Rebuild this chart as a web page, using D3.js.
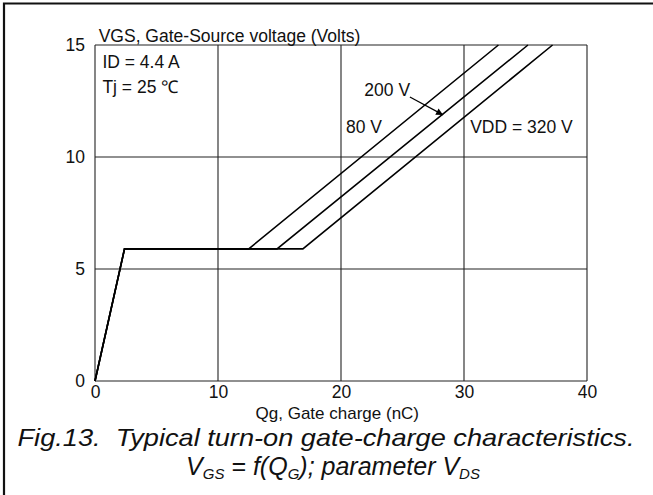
<!DOCTYPE html>
<html>
<head>
<meta charset="utf-8">
<script src="https://cdn.jsdelivr.net/npm/d3@7"></script>
<style>
  body { margin: 0; background: #fff; }
  svg { display: block; font-family: "Liberation Sans", Arial, sans-serif; }
</style>
</head>
<body>
<div id="chart"></div>
<script>
// gate charge curves
const qgTicks = [0, 10, 20, 30, 40];
const vgsTicks = [0, 5, 10, 15];
const seriesNames = ['80 V', '200 V', 'VDD = 320 V'];
const vgsPoints = [0, 5.9, 5.9, 15];
const qg80 = [0, 2.4, 12.5, 32.8];
const qg200 = [0, 2.4, 14.8, 35.2];
const qg320 = [0, 2.4, 16.9, 37.2];

const width = 653, height = 495;
const margin = { top: 45, right: 66, bottom: 114, left: 95 };

const svg = d3.select('#chart').append('svg')
  .attr('width', width).attr('height', height);

svg.append('rect').attr('width', width).attr('height', height).attr('fill', '#fff');

// outer frame (top + left visible)
svg.append('path')
  .attr('d', 'M4,495 L4,3.5 L653,3.5')
  .attr('fill', 'none').attr('stroke', '#111').attr('stroke-width', 2.2);

const x = d3.scaleLinear().domain([0, 40]).range([margin.left, width - margin.right]);
const y = d3.scaleLinear().domain([0, 15]).range([height - margin.bottom, margin.top]);

const g = svg.append('g');

// grid
g.selectAll('.vg').data(qgTicks).enter().append('line')
  .attr('x1', d => x(d)).attr('x2', d => x(d))
  .attr('y1', y(0)).attr('y2', y(15))
  .attr('stroke', '#222').attr('stroke-width', 1.1);
g.selectAll('.hg').data(vgsTicks).enter().append('line')
  .attr('x1', x(0)).attr('x2', x(40))
  .attr('y1', d => y(d)).attr('y2', d => y(d))
  .attr('stroke', '#222').attr('stroke-width', 1.1);

// axes labels via d3 axes, no domain / tick lines
const xAxis = g.append('g')
  .attr('transform', 'translate(0,' + y(0) + ')')
  .call(d3.axisBottom(x).tickValues(qgTicks).tickSize(0).tickPadding(5));
const yAxis = g.append('g')
  .attr('transform', 'translate(' + x(0) + ',0)')
  .call(d3.axisLeft(y).tickValues(vgsTicks).tickSize(0).tickPadding(10));
[xAxis, yAxis].forEach(a => {
  a.select('.domain').remove();
  a.selectAll('text').attr('font-size', 17.5).attr('fill', '#111')
    .attr('font-family', '"Liberation Sans", Arial, sans-serif');
});

// curves
const line = d3.line().x(d => x(d[0])).y(d => y(d[1]));
[qg80, qg200, qg320].forEach((qs, i) => {
  g.append('path')
    .datum(qs.map((q, j) => [q, vgsPoints[j]]))
    .attr('d', line)
    .attr('fill', 'none').attr('stroke', '#000').attr('stroke-width', 1.6)
    .attr('stroke-linejoin', 'miter');
});

// annotations
const txt = (s, px, py, size, anchor) => svg.append('text')
  .attr('x', px).attr('y', py).attr('font-size', size || 17.5)
  .attr('text-anchor', anchor || 'start').attr('fill', '#111').text(s);

txt('VGS, Gate-Source voltage (Volts)', x(0.3), 42);
txt('ID = 4.4 A', x(0.6), 68);
txt('Tj = 25 ℃', x(0.6), 93);

txt(seriesNames[0], x(20.4), y(11.07));
txt(seriesNames[1], x(21.9), y(12.72));
txt(seriesNames[2], x(30.5), y(11.07));

// arrow for 200 V
svg.append('defs').append('marker')
  .attr('id', 'ah').attr('viewBox', '0 0 10 10').attr('refX', 10).attr('refY', 5)
  .attr('markerWidth', 10).attr('markerHeight', 7).attr('markerUnits', 'userSpaceOnUse')
  .attr('orient', 'auto')
  .append('path').attr('d', 'M0,0 L10,5 L0,10 z').attr('fill', '#000');
svg.append('line')
  .attr('x1', x(25.6)).attr('y1', y(12.68))
  .attr('x2', x(28.3)).attr('y2', y(11.88))
  .attr('stroke', '#000').attr('stroke-width', 1.2)
  .attr('marker-end', 'url(#ah)');

txt('Qg, Gate charge (nC)', x(19.7), 419, 17, 'middle');

// caption
txt('Fig.13.  Typical turn-on gate-charge characteristics.', 326, 446, 24, 'middle')
  .attr('font-style', 'italic').attr('xml:space', 'preserve')
  .attr('textLength', 617).attr('lengthAdjust', 'spacingAndGlyphs');
const cap2 = svg.append('text').attr('x', 333).attr('y', 475).attr('font-size', 25)
  .attr('text-anchor', 'middle').attr('font-style', 'italic').attr('fill', '#111');
cap2.append('tspan').text('V');
cap2.append('tspan').attr('font-size', 15).attr('dy', 4).text('GS');
cap2.append('tspan').attr('dy', -4).text(' = f(Q');
cap2.append('tspan').attr('font-size', 15).attr('dy', 4).text('G');
cap2.append('tspan').attr('dy', -4).text('); parameter V');
cap2.append('tspan').attr('font-size', 15).attr('dy', 4).text('DS');
</script>
</body>
</html>
